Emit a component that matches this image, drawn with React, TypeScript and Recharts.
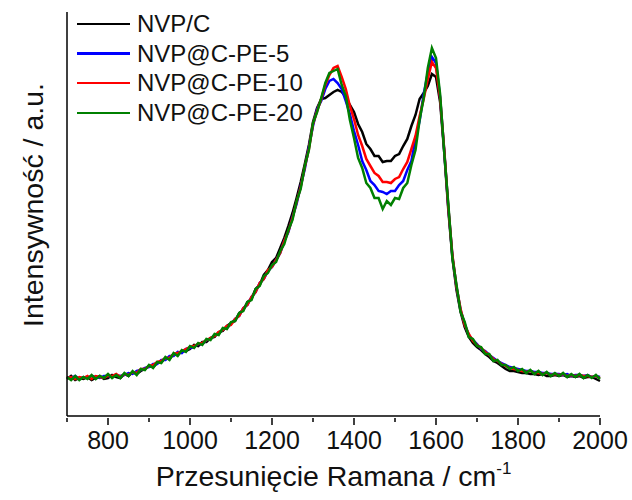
import { LineChart, Line, XAxis, YAxis } from "recharts";

// Raman shift grid, cm-1 (step 10)
const SHIFTS = Array.from({ length: 131 }, (_, i) => 700 + i * 10);

const NVP_C = [
  37, 40, 36, 38, 37, 39, 36, 38, 40, 37,
  38, 41, 39, 38, 42, 40, 44, 42, 45, 47,
  50, 49, 53, 54, 58, 57, 62, 61, 65, 65,
  67, 71, 70, 74, 74, 78, 79, 84, 85, 90,
  93, 95, 103, 106, 114, 117, 127, 131, 141, 146,
  154, 158, 168, 178, 190, 203, 218, 234, 252, 271,
  294, 308, 317, 318, 321, 324, 326, 324, 319, 311,
  304, 292, 284, 272, 267, 260, 260, 254, 255, 255,
  260, 262, 270, 277, 290, 301, 317, 323, 330, 342,
  339, 314, 264, 206, 158, 126, 104, 89, 79, 73,
  69, 66, 62, 59, 55, 53, 50, 47, 45, 45,
  44, 43, 43, 42, 42, 41, 42, 40, 40, 41,
  40, 41, 39, 40, 39, 40, 38, 39, 39, 37,
  35,
];

const NVP_PE5 = [
  39, 38, 40, 37, 39, 38, 40, 39, 38, 40,
  40, 39, 41, 40, 41, 43, 42, 45, 46, 48,
  49, 52, 52, 56, 56, 60, 60, 64, 63, 67,
  68, 69, 72, 72, 76, 77, 81, 82, 87, 88,
  92, 97, 100, 108, 111, 119, 124, 133, 137, 145,
  149, 156, 163, 175, 184, 199, 212, 230, 247, 269,
  290, 307, 315, 327, 335, 337, 333, 327, 315, 302,
  285, 271, 255, 246, 235, 231, 225, 224, 222, 225,
  225, 231, 235, 246, 255, 277, 295, 322, 343, 359,
  353, 319, 266, 209, 160, 129, 106, 92, 81, 76,
  72, 67, 65, 61, 58, 55, 53, 51, 49, 48,
  47, 46, 45, 45, 44, 44, 43, 43, 42, 42,
  42, 41, 42, 40, 41, 41, 40, 41, 39, 40,
  39,
];

const NVP_PE10 = [
  38, 39, 37, 39, 38, 40, 37, 40, 39, 38,
  40, 40, 42, 39, 42, 41, 44, 43, 47, 47,
  50, 51, 54, 55, 58, 58, 62, 63, 65, 67,
  69, 70, 72, 73, 76, 78, 80, 84, 86, 90,
  91, 97, 100, 108, 111, 119, 124, 133, 137, 146,
  149, 156, 163, 175, 185, 198, 214, 229, 249, 267,
  292, 305, 317, 331, 341, 348, 350, 339, 327, 310,
  297, 281, 270, 257, 250, 243, 240, 234, 234, 233,
  237, 239, 247, 254, 267, 280, 300, 317, 337, 354,
  348, 318, 267, 209, 161, 129, 107, 91, 82, 75,
  71, 68, 64, 61, 57, 55, 52, 50, 48, 47,
  46, 45, 44, 45, 43, 43, 42, 43, 41, 42,
  41, 42, 40, 41, 40, 41, 40, 40, 39, 40,
  38,
];

const NVP_PE20 = [
  39, 36, 40, 36, 39, 37, 41, 37, 40, 38,
  42, 38, 41, 38, 43, 40, 45, 41, 47, 46,
  51, 48, 54, 53, 59, 56, 63, 60, 66, 64,
  70, 68, 73, 71, 77, 76, 82, 81, 88, 87,
  94, 95, 103, 105, 114, 116, 127, 130, 140, 143,
  151, 154, 165, 172, 186, 196, 215, 227, 250, 266,
  293, 304, 318, 333, 343, 345, 347, 331, 320, 296,
  278, 258, 248, 233, 228, 218, 218, 207, 215, 211,
  218, 217, 228, 233, 251, 266, 296, 318, 348, 368,
  358, 322, 264, 212, 158, 131, 104, 94, 79, 77,
  70, 69, 62, 62, 55, 56, 51, 51, 47, 49,
  45, 47, 43, 46, 42, 45, 41, 44, 40, 43,
  40, 43, 39, 42, 39, 42, 38, 41, 38, 41,
  37,
];

const X_TICKS = [700, 800, 900, 1000, 1100, 1200, 1300, 1400, 1500, 1600, 1700, 1800, 1900, 2000];

const SERIES = [
  { key: "nvpc", name: "NVP/C", color: "#000000", values: NVP_C },
  { key: "pe5", name: "NVP@C-PE-5", color: "#0000ff", values: NVP_PE5 },
  { key: "pe10", name: "NVP@C-PE-10", color: "#ff0000", values: NVP_PE10 },
  { key: "pe20", name: "NVP@C-PE-20", color: "#008000", values: NVP_PE20 },
];

const data = SHIFTS.map((x, i) => {
  const row: Record<string, number> = { x };
  SERIES.forEach((s) => {
    row[s.key] = s.values[i];
  });
  return row;
});

const FONT = "'Liberation Sans', Arial, sans-serif";

const XTick = (props: any) => {
  const { x, y, payload } = props;
  const major = payload.value % 200 === 0;
  return (
    <g>
      <line x1={x} x2={x} y1={y} y2={y + (major ? 7 : 4)} stroke="#000" strokeWidth={1.5} />
      {major && (
        <text x={x} y={y + 31} textAnchor="middle" fontSize={25} fontFamily={FONT} fill="#111">
          {payload.value}
        </text>
      )}
    </g>
  );
};

// legend drawn over the plot, top-left
const LegendBox = () => (
  <div style={{ position: "absolute", left: 77, top: 9, fontFamily: FONT, fontSize: 24, color: "#111" }}>
    {SERIES.map((s) => (
      <div key={s.key} style={{ display: "flex", alignItems: "center", height: 29.7 }}>
        <span style={{ display: "inline-block", width: 53, height: 2.5, background: s.color, marginRight: 7 }} />
        <span>{s.name}</span>
      </div>
    ))}
  </div>
);

export default function App() {
  return (
    <div style={{ position: "absolute", left: 0, top: 0, width: 632, height: 500, background: "#fff" }}>
      <LineChart width={632} height={500} data={data} margin={{ top: 12, right: 32, bottom: 0, left: 0 }}>
        <XAxis
          dataKey="x"
          type="number"
          domain={[700, 2000]}
          ticks={X_TICKS}
          interval={0}
          height={84}
          tickSize={0}
          tickLine={false}
          tick={<XTick />}
          axisLine={{ stroke: "#000", strokeWidth: 1.5 }}
          label={{
            content: () => (
              <text x={333.5} y={486} textAnchor="middle" fontSize={28.5} fontFamily={FONT} fill="#111">
                Przesunięcie Ramana / cm
                <tspan fontSize={17} dy={-12}>-1</tspan>
              </text>
            ),
          }}
        />
        <YAxis
          type="number"
          domain={[0, 404]}
          width={67}
          tick={false}
          tickLine={false}
          axisLine={{ stroke: "#000", strokeWidth: 1.5 }}
          label={{
            content: () => (
              <text
                x={33}
                y={205}
                transform="rotate(-90 33 205)"
                textAnchor="middle"
                dominantBaseline="central"
                fontSize={28.5}
                fontFamily={FONT}
                fill="#111"
              >
                Intensywność / a.u.
              </text>
            ),
          }}
        />
        {SERIES.map((s) => (
          <Line
            key={s.key}
            dataKey={s.key}
            name={s.name}
            stroke={s.color}
            strokeWidth={2.5}
            dot={false}
            activeDot={false}
            type="linear"
            isAnimationActive={false}
          />
        ))}
      </LineChart>
      <LegendBox />
    </div>
  );
}
